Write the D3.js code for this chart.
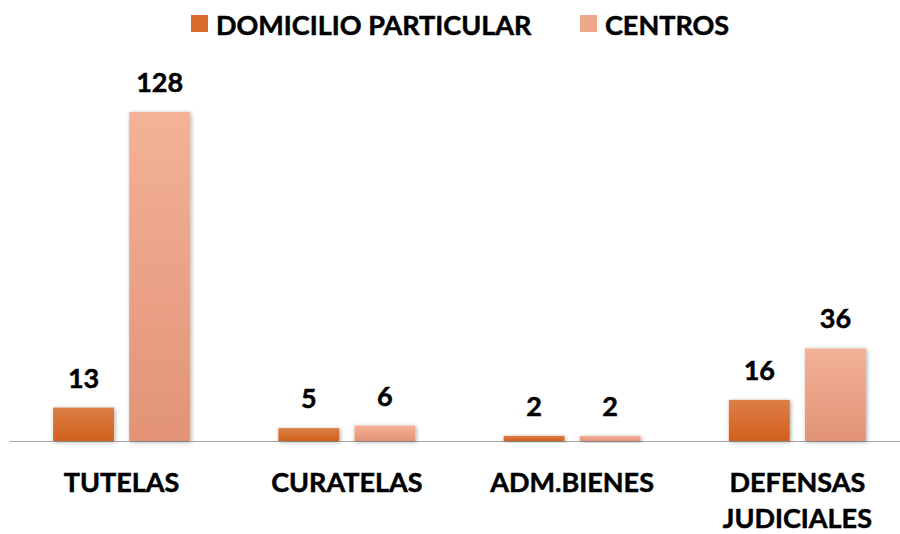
<!DOCTYPE html>
<html>
<head>
<meta charset="utf-8">
<script src="https://cdn.jsdelivr.net/npm/d3@7"></script>
<style>
  body { margin: 0; background: #fff; }
  text { font-family: Lato, "Open Sans", sans-serif; font-weight: bold; fill: #000; stroke: #000; stroke-width: 0.5px; }
</style>
</head>
<body>
<svg width="900" height="534"></svg>
<script>
let categories = ["TUTELAS", "CURATELAS", "ADM.BIENES", "DEFENSAS JUDICIALES"];
let series = ["DOMICILIO PARTICULAR", "CENTROS"];
let domicilio = [13, 5, 2, 16];
let centros = [128, 6, 2, 36];

let svg = d3.select("svg"),
    width = +svg.attr("width"),
    height = +svg.attr("height");

let baseY = 441;

let x0 = d3.scaleBand().domain(categories).range([9, 910]);
let x1 = d3.scaleBand().domain(series).range([0, 137]).paddingInner(0.2);
let y = d3.scaleLinear().domain([0, 128]).range([baseY, 112]);

let defs = svg.append("defs");
let grads = [["g0", "#db7e48", "#d2611b"], ["g1", "#f3b297", "#e29376"]];
grads.forEach(g => {
  let lg = defs.append("linearGradient").attr("id", g[0]).attr("x1", 0).attr("y1", 0).attr("x2", 0).attr("y2", 1);
  lg.append("stop").attr("offset", "0%").attr("stop-color", g[1]);
  lg.append("stop").attr("offset", "100%").attr("stop-color", g[2]);
});
let f = defs.append("filter").attr("id", "shadow").attr("x", "-30%").attr("y", "-30%").attr("width", "160%").attr("height", "160%");
f.append("feDropShadow").attr("dx", 1).attr("dy", 1).attr("stdDeviation", 2).attr("flood-color", "#000").attr("flood-opacity", 0.35);

let colorScale = d3.scaleOrdinal().domain(series).range(["url(#g0)", "url(#g1)"]);
let legendColor = d3.scaleOrdinal().domain(series).range(["#d76a2c", "#f0a88c"]);

// baseline
svg.append("line")
  .attr("x1", 10).attr("x2", 900)
  .attr("y1", baseY + 0.5).attr("y2", baseY + 0.5)
  .attr("stroke", "#a6a6a6").attr("stroke-width", 1.2);

let rows = categories.map((c, i) => ({cat: c, vals: [
  {s: series[0], v: domicilio[i]}, {s: series[1], v: centros[i]}]}));

let off = (x0.bandwidth() - 137) / 2;

let group = svg.append("g")
  .selectAll("g")
  .data(rows)
  .enter().append("g")
  .attr("transform", d => `translate(${x0(d.cat) + off},0)`);

group.selectAll("rect")
  .data(d => d.vals)
  .enter().append("rect")
  .attr("x", d => x1(d.s))
  .attr("y", d => y(d.v))
  .attr("width", x1.bandwidth())
  .attr("height", d => baseY - y(d.v))
  .attr("fill", d => colorScale(d.s))
  .attr("filter", "url(#shadow)");

group.selectAll("text.val")
  .data(d => d.vals)
  .enter().append("text")
  .attr("class", "val")
  .attr("x", d => x1(d.s) + x1.bandwidth() / 2)
  .attr("y", d => y(d.v) - 20)
  .attr("text-anchor", "middle")
  .style("font-size", "27px")
  .text(d => d.v);

// category labels
let catLabels = svg.append("g")
  .selectAll("text")
  .data(categories)
  .enter().append("text")
  .attr("x", d => x0(d) + x0.bandwidth() / 2)
  .attr("y", 492)
  .attr("text-anchor", "middle")
  .style("font-size", "27px");

catLabels.each(function(d) {
  let words = d === "DEFENSAS JUDICIALES" ? ["DEFENSAS", "JUDICIALES"] : [d];
  let t = d3.select(this);
  words.forEach((w, i) => {
    t.append("tspan").attr("x", x0(d) + x0.bandwidth() / 2).attr("dy", i === 0 ? 0 : 36).text(w);
  });
});

// legend
let legend = svg.append("g");
let legendPos = [191, 580];
series.forEach((s, i) => {
  legend.append("rect")
    .attr("x", legendPos[i]).attr("y", 15)
    .attr("width", 17).attr("height", 17)
    .attr("fill", legendColor(s));
  legend.append("text")
    .attr("x", legendPos[i] + 25).attr("y", 35)
    .style("font-size", "27px")
    .text(s);
});
</script>
</body>
</html>
